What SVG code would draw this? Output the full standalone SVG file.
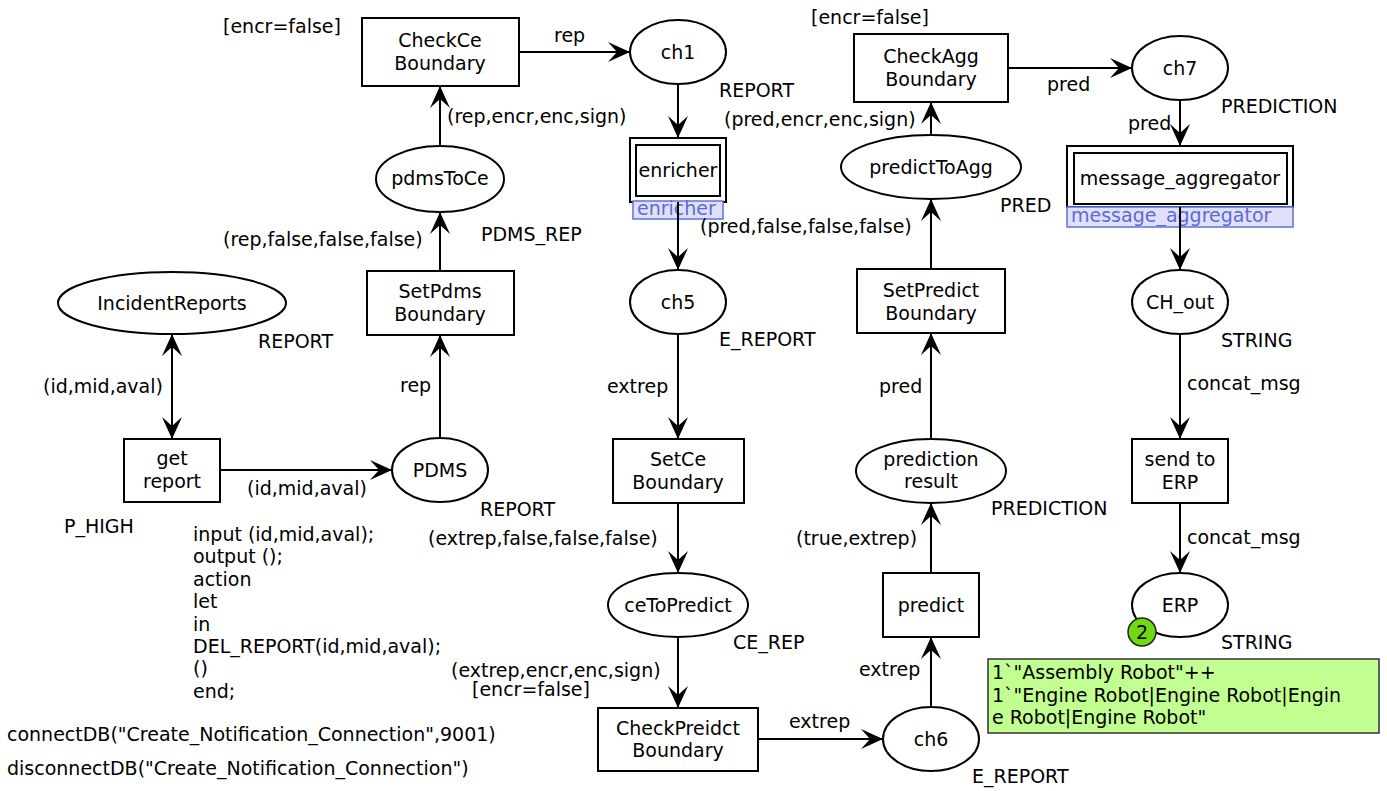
<svg xmlns="http://www.w3.org/2000/svg" width="1387" height="791" viewBox="0 0 1387 791">
<style>
text{font-family:"DejaVu Sans","Liberation Sans",sans-serif;font-size:19px;fill:#000}
.c{text-anchor:middle}
.shape{fill:#fff;stroke:#000;stroke-width:2}
.arc{stroke:#000;stroke-width:2;fill:none;marker-end:url(#ah)}
.lbl{fill:#e0e0fc;stroke:#6272dc;stroke-width:1.5}
.lt{fill:#5b6bd6}
</style>
<defs>
<marker id="ah" markerUnits="userSpaceOnUse" markerWidth="24" markerHeight="22" refX="22" refY="10" orient="auto-start-reverse">
<path d="M22,10 L0,0 L9,10 L0,20 Z" fill="#000"/>
</marker>
</defs>
<rect width="1387" height="791" fill="#fff"/>

<g id="CheckCeBoundary"><rect class="shape" x="362" y="18" width="157" height="68"/><text class="c" x="440" y="47">CheckCe</text><text class="c" x="440" y="70">Boundary</text></g>
<g id="ch1"><ellipse class="shape" cx="678" cy="52" rx="48" ry="32"/><text class="c" x="678" y="59">ch1</text></g>
<g id="enricher"><rect class="shape" x="630" y="138" width="96" height="64"/><rect class="shape" x="636" y="145" width="84" height="51"/><text class="c" x="678" y="177">enricher</text><rect class="lbl" x="633" y="201" width="90" height="18"/><text class="lt" x="637" y="215">enricher</text></g>
<g id="pdmsToCe"><ellipse class="shape" cx="440" cy="179" rx="64" ry="33"/><text class="c" x="440" y="185">pdmsToCe</text></g>
<g id="SetPdmsBoundary"><rect class="shape" x="367" y="271" width="147" height="64"/><text class="c" x="440" y="298">SetPdms</text><text class="c" x="440" y="321">Boundary</text></g>
<g id="IncidentReports"><ellipse class="shape" cx="172" cy="303" rx="114" ry="31"/><text class="c" x="172" y="310">IncidentReports</text></g>
<g id="getReport"><rect class="shape" x="124" y="439" width="96" height="63"/><text class="c" x="172" y="465">get</text><text class="c" x="172" y="488">report</text></g>
<g id="PDMS"><ellipse class="shape" cx="440" cy="470" rx="48" ry="32"/><text class="c" x="440" y="477">PDMS</text></g>
<g id="ch5"><ellipse class="shape" cx="678" cy="302" rx="48" ry="32"/><text class="c" x="678" y="309">ch5</text></g>
<g id="SetCeBoundary"><rect class="shape" x="613" y="439" width="131" height="64"/><text class="c" x="678" y="466">SetCe</text><text class="c" x="678" y="489">Boundary</text></g>
<g id="ceToPredict"><ellipse class="shape" cx="678" cy="605" rx="70" ry="32"/><text class="c" x="678" y="612">ceToPredict</text></g>
<g id="CheckPreidctBoundary"><rect class="shape" x="598" y="708" width="160" height="63"/><text class="c" x="678" y="735">CheckPreidct</text><text class="c" x="678" y="757">Boundary</text></g>
<g id="ch6"><ellipse class="shape" cx="931" cy="739" rx="48" ry="32"/><text class="c" x="931" y="746">ch6</text></g>
<g id="predict"><rect class="shape" x="883" y="573" width="96" height="64"/><text class="c" x="931" y="612">predict</text></g>
<g id="predictionResult"><ellipse class="shape" cx="931" cy="471" rx="75" ry="32"/><text class="c" x="931" y="466">prediction</text><text class="c" x="931" y="488">result</text></g>
<g id="SetPredictBoundary"><rect class="shape" x="857" y="269" width="148" height="64"/><text class="c" x="931" y="297">SetPredict</text><text class="c" x="931" y="320">Boundary</text></g>
<g id="predictToAgg"><ellipse class="shape" cx="931" cy="167" rx="90" ry="32"/><text class="c" x="931" y="174">predictToAgg</text></g>
<g id="CheckAggBoundary"><rect class="shape" x="854" y="34" width="154" height="68"/><text class="c" x="931" y="63">CheckAgg</text><text class="c" x="931" y="86">Boundary</text></g>
<g id="ch7"><ellipse class="shape" cx="1180" cy="68" rx="48" ry="32"/><text class="c" x="1180" y="75">ch7</text></g>
<g id="message_aggregator"><rect class="shape" x="1067" y="146" width="226" height="61"/><rect class="shape" x="1074" y="153" width="213" height="51"/><text class="c" x="1180" y="185">message_aggregator</text><rect class="lbl" x="1067" y="207" width="226" height="20"/><text class="lt" x="1071" y="222">message_aggregator</text></g>
<g id="CH_out"><ellipse class="shape" cx="1180" cy="302" rx="48" ry="32"/><text class="c" x="1180" y="309">CH_out</text></g>
<g id="sendToERP"><rect class="shape" x="1132" y="439" width="96" height="64"/><text class="c" x="1180" y="466">send to</text><text class="c" x="1180" y="489">ERP</text></g>
<g id="ERP"><ellipse class="shape" cx="1180" cy="605" rx="48" ry="32"/><text class="c" x="1180" y="612">ERP</text><circle cx="1142" cy="632" r="14" fill="#6fd912" stroke="#222" stroke-width="1.5"/><text class="c" x="1142" y="639">2</text></g>
<g id="marking"><rect x="988" y="659" width="391" height="74" fill="#c0ff90" stroke="#333" stroke-width="1.5"/><text x="992" y="679">1`"Assembly Robot"++</text><text x="992" y="702">1`"Engine Robot|Engine Robot|Engin</text><text x="992" y="724">e Robot|Engine Robot"</text></g>

<g id="connectors">
<line class="arc" x1="519" y1="52" x2="630" y2="52"/>
<line class="arc" x1="678" y1="84" x2="678" y2="138"/>
<line class="arc" x1="678" y1="202" x2="678" y2="270"/>
<line class="arc" x1="440" y1="146" x2="440" y2="86"/>
<line class="arc" x1="440" y1="271" x2="440" y2="212"/>
<line class="arc" x1="440" y1="438" x2="440" y2="335"/>
<line class="arc" x1="220" y1="470" x2="392" y2="470"/>
<line class="arc" x1="172" y1="334" x2="172" y2="439" style="marker-start:url(#ah)"/>
<line class="arc" x1="678" y1="334" x2="678" y2="439"/>
<line class="arc" x1="678" y1="503" x2="678" y2="573"/>
<line class="arc" x1="678" y1="637" x2="678" y2="708"/>
<line class="arc" x1="758" y1="739" x2="883" y2="739"/>
<line class="arc" x1="931" y1="707" x2="931" y2="637"/>
<line class="arc" x1="931" y1="573" x2="931" y2="503"/>
<line class="arc" x1="931" y1="439" x2="931" y2="333"/>
<line class="arc" x1="931" y1="269" x2="931" y2="199"/>
<line class="arc" x1="931" y1="135" x2="931" y2="102"/>
<line class="arc" x1="1008" y1="68" x2="1132" y2="68"/>
<line class="arc" x1="1180" y1="100" x2="1180" y2="146"/>
<line class="arc" x1="1180" y1="207" x2="1180" y2="270"/>
<line class="arc" x1="1180" y1="334" x2="1180" y2="439"/>
<line class="arc" x1="1180" y1="503" x2="1180" y2="573"/>
</g>

<g id="labels">
<text x="223" y="33">[encr=false]</text>
<text x="554" y="42">rep</text>
<text x="719" y="97">REPORT</text>
<text x="447" y="123">(rep,encr,enc,sign)</text>
<text x="724" y="126">(pred,encr,enc,sign)</text>
<text x="811" y="24">[encr=false]</text>
<text x="1047" y="91">pred</text>
<text x="1221" y="113">PREDICTION</text>
<text x="1128" y="130">pred</text>
<text x="223" y="246">(rep,false,false,false)</text>
<text x="481" y="241">PDMS_REP</text>
<text x="700" y="233">(pred,false,false,false)</text>
<text x="1000" y="212">PRED</text>
<text x="258" y="348">REPORT</text>
<text x="719" y="346">E_REPORT</text>
<text x="1221" y="347">STRING</text>
<text x="43" y="393">(id,mid,aval)</text>
<text x="400" y="392">rep</text>
<text x="607" y="393">extrep</text>
<text x="879" y="393">pred</text>
<text x="1187" y="390">concat_msg</text>
<text x="247" y="495">(id,mid,aval)</text>
<text x="480" y="516">REPORT</text>
<text x="991" y="515">PREDICTION</text>
<text x="64" y="533">P_HIGH</text>
<text x="428" y="545">(extrep,false,false,false)</text>
<text x="796" y="545">(true,extrep)</text>
<text x="1187" y="544">concat_msg</text>
<text x="193" y="541">input (id,mid,aval);</text>
<text x="193" y="563.4">output ();</text>
<text x="193" y="585.8">action</text>
<text x="193" y="608.2">let</text>
<text x="193" y="630.6">in</text>
<text x="193" y="653">DEL_REPORT(id,mid,aval);</text>
<text x="193" y="675.4">()</text>
<text x="193" y="697.8">end;</text>
<text x="733" y="649">CE_REP</text>
<text x="1221" y="649">STRING</text>
<text x="859" y="676">extrep</text>
<text x="451" y="677">(extrep,encr,enc,sign)</text>
<text x="472" y="696">[encr=false]</text>
<text x="789" y="728">extrep</text>
<text x="7" y="741">connectDB("Create_Notification_Connection",9001)</text>
<text x="7" y="775">disconnectDB("Create_Notification_Connection")</text>
<text x="972" y="783">E_REPORT</text>
</g>
</svg>
